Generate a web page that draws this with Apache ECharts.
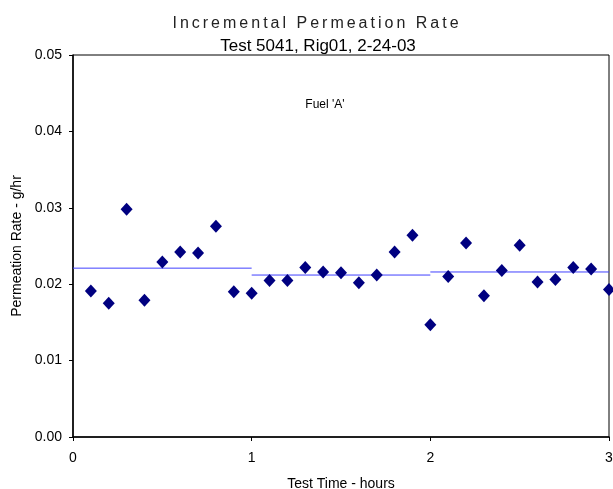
<!DOCTYPE html>
<html>
<head>
<meta charset="utf-8">
<script src="https://cdn.jsdelivr.net/npm/echarts@6/dist/echarts.min.js"></script>
<style>
  html, body { margin: 0; padding: 0; background: #fff; }
  #chart { width: 613px; height: 489px; }
</style>
</head>
<body>
<div id="chart"></div>
<script>
// test time (hours) and incremental permeation rate (g/hr)
const times = [0.1, 0.2, 0.3, 0.4, 0.5, 0.6, 0.7, 0.8, 0.9, 1.0,
               1.1, 1.2, 1.3, 1.4, 1.5, 1.6, 1.7, 1.8, 1.9, 2.0,
               2.1, 2.2, 2.3, 2.4, 2.5, 2.6, 2.7, 2.8, 2.9, 3.0]
const rates = [0.0191, 0.0175, 0.0298, 0.0179, 0.0229, 0.0242, 0.0241, 0.0276, 0.0190, 0.0188,
               0.0205, 0.0205, 0.0222, 0.0216, 0.0215, 0.0202, 0.0212, 0.0242, 0.0264, 0.0147,
               0.0210, 0.0254, 0.0185, 0.0218, 0.0251, 0.0203, 0.0206, 0.0222, 0.0220, 0.0193]
// hourly averages
const hourStarts = [0, 1, 2]
const hourEnds = [1, 2, 3]
const hourAvg = [0.0221, 0.0212, 0.0216]

const yTicks = [0, 0.01, 0.02, 0.03, 0.04, 0.05]

const titleText = 'Incremental Permeation Rate'
const font = 'Liberation Sans, Arial, sans-serif'

// the original title is letter-spaced, canvas can do that natively
const origFillText = CanvasRenderingContext2D.prototype.fillText
CanvasRenderingContext2D.prototype.fillText = function (t) {
  if (t === titleText) {
    this.save()
    const f = this.font
    this.letterSpacing = '3px'
    this.font = f
    origFillText.apply(this, arguments)
    this.letterSpacing = '0px'
    this.font = f
    this.restore()
    return
  }
  return origFillText.apply(this, arguments)
}

const chart = echarts.init(document.getElementById('chart'))

const avgSeries = hourAvg.map((v, i) => ({
  type: 'line',
  data: [[hourStarts[i], v], [hourEnds[i], v]],
  symbol: 'none',
  lineStyle: { color: '#4040ff', width: 1 },
  silent: true,
  z: 1
}))

chart.setOption({
  animation: false,
  title: [
    {
      text: titleText,
      left: 312, top: 11, textAlign: 'center',
      textStyle: { fontFamily: font, fontSize: 16, fontWeight: 'normal', color: '#222' }
    },
    {
      text: 'Test 5041, Rig01, 2-24-03',
      left: 313, top: 33, textAlign: 'center',
      textStyle: { fontFamily: font, fontSize: 17, fontWeight: 'normal', color: '#000' }
    },
    {
      text: "Fuel 'A'",
      left: 320, top: 94, textAlign: 'center',
      textStyle: { fontFamily: font, fontSize: 12, fontWeight: 'normal', color: '#000' }
    }
  ],
  grid: {
    left: 73, right: 4, top: 55, bottom: 52,
    outerBoundsMode: 'none',
    show: true, borderColor: '#000', borderWidth: 1
  },
  xAxis: {
    type: 'value', min: 0, max: 3, interval: 1,
    name: 'Test Time - hours', nameLocation: 'middle', nameGap: 40,
    nameTextStyle: { fontFamily: font, fontSize: 14, color: '#000' },
    axisLine: { lineStyle: { color: '#000', width: 1.5 } },
    axisTick: { show: true, length: 4, lineStyle: { color: '#000' } },
    axisLabel: { fontFamily: font, fontSize: 14, color: '#000', margin: 14 },
    splitLine: { show: false }
  },
  yAxis: {
    type: 'value', min: yTicks[0], max: yTicks[yTicks.length - 1], interval: 0.01,
    name: 'Permeation Rate - g/hr', nameLocation: 'middle', nameGap: 47,
    nameTextStyle: { fontFamily: font, fontSize: 14, color: '#000' },
    axisLine: { show: true, lineStyle: { color: '#000', width: 1.5 } },
    axisTick: { show: true, length: 4, lineStyle: { color: '#000' } },
    axisLabel: { fontFamily: font, fontSize: 14, color: '#000', margin: 11,
      formatter: v => v.toFixed(2) },
    splitLine: { show: false }
  },
  series: [
    ...avgSeries,
    {
      type: 'scatter',
      data: times.map((t, i) => [t, rates[i]]),
      symbol: 'diamond',
      symbolSize: [12, 13],
      itemStyle: { color: '#000080', opacity: 1 },
      z: 3
    }
  ]
})
</script>
</body>
</html>
